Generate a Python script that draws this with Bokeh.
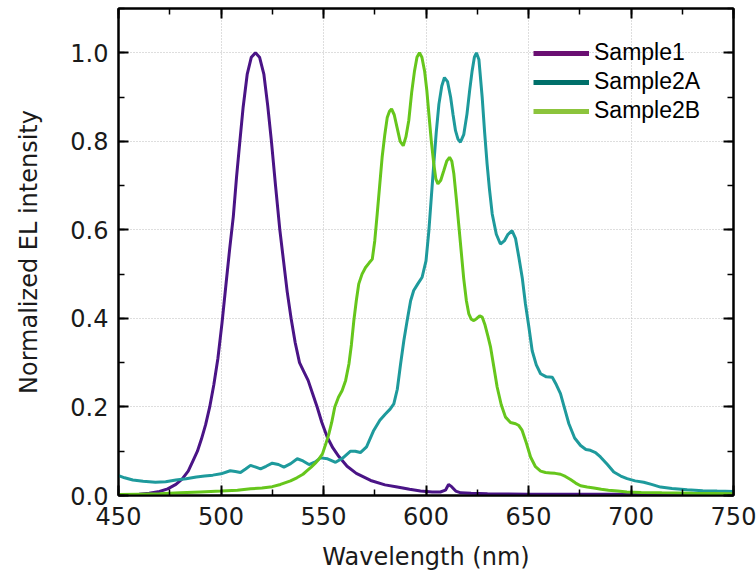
from bokeh.plotting import figure
from bokeh.models import (Range1d, LinearAxis, SingleIntervalTicker, NumeralTickFormatter,
                          Legend, LegendItem, CustomJSTickFormatter)
from bokeh.embed import file_html
from bokeh.resources import INLINE

# ---------------- data ----------------
wl1 = [450, 455, 460, 465, 470, 474, 478, 481, 484, 486.5,
       488.5, 490.5, 492.5, 494.5, 496.5, 498.5, 500.5, 502.5, 504.3, 506,
       507.6, 509.2, 510.8, 512.8, 514.8, 516.8, 518.8, 520.9, 522.8, 524.6,
       526.6, 528.7, 530.5, 532.3, 534.2, 536.2, 538.3, 540.4, 542.5, 544.7,
       546.9, 549.2, 551.8, 554.5, 557.5, 561.5, 566, 573, 580, 586,
       592, 597.3, 603, 607, 609.5, 611, 612.5, 614.5, 617, 622,
       630, 650, 680, 720, 750]
sample1 = [0.002, 0.002, 0.003, 0.005, 0.009, 0.015, 0.025, 0.037, 0.055, 0.08,
           0.1, 0.128, 0.16, 0.2, 0.25, 0.31, 0.39, 0.48, 0.56, 0.63,
           0.72, 0.8, 0.877, 0.952, 0.99, 1.0, 0.99, 0.952, 0.88, 0.8,
           0.70, 0.6, 0.53, 0.46, 0.4, 0.345, 0.3, 0.28, 0.26, 0.23,
           0.2, 0.165, 0.132, 0.108, 0.088, 0.066, 0.05, 0.034, 0.024, 0.019,
           0.014, 0.01, 0.008, 0.008, 0.012, 0.025, 0.02, 0.01, 0.006, 0.005,
           0.004, 0.003, 0.003, 0.003, 0.003]

wl2 = [450, 453, 457, 462, 468, 473, 478, 483, 488, 492,
       496, 500, 504.5, 507, 509.5, 512, 514.4, 517, 519.3, 522,
       525, 528, 530.7, 534, 537.2, 540, 542.9, 546, 548.5, 552,
       555.9, 559.5, 563.2, 565.5, 568, 571, 574.5, 577.5, 580.2, 582.5,
       584.3, 586, 587.6, 589.2, 590.8, 592.5, 594, 596, 598.1, 600,
       601.4, 602.7, 603.8, 605, 606.3, 607.7, 609, 610.5, 612, 613.2,
       614.4, 615.6, 616.8, 618.4, 620, 621.3, 622.5, 623.6, 624.6, 625.8,
       627.4, 628.6, 629.8, 631, 632.3, 634.3, 636.3, 638.2, 640, 642,
       643.7, 645.3, 647, 648.5, 650.2, 651.8, 653.8, 655.9, 658.7, 661.6,
       663.6, 665.6, 667.7, 669.7, 672.5, 675.4, 678, 680.2, 682.7, 685.1,
       688.5, 691.6, 695, 698.1, 702, 706.2, 710, 714.4, 720, 727.4,
       735, 742, 750]
sample2a = [0.045, 0.04, 0.035, 0.032, 0.03, 0.031, 0.035, 0.038, 0.042, 0.044,
            0.046, 0.049, 0.056, 0.054, 0.052, 0.06, 0.068, 0.064, 0.06, 0.066,
            0.073, 0.07, 0.064, 0.072, 0.083, 0.078, 0.07, 0.076, 0.085, 0.083,
            0.075, 0.085, 0.1, 0.1, 0.097, 0.11, 0.147, 0.17, 0.184, 0.195,
            0.207, 0.24, 0.297, 0.35, 0.395, 0.44, 0.463, 0.478, 0.493, 0.53,
            0.598, 0.68, 0.749, 0.82, 0.884, 0.925, 0.944, 0.935, 0.9, 0.86,
            0.824, 0.805, 0.798, 0.815, 0.862, 0.915, 0.959, 0.99, 1.0, 0.985,
            0.9, 0.82, 0.749, 0.69, 0.636, 0.59, 0.568, 0.575, 0.59, 0.598,
            0.58, 0.538, 0.49, 0.433, 0.38, 0.327, 0.295, 0.275, 0.268, 0.267,
            0.25, 0.23, 0.195, 0.162, 0.13, 0.113, 0.104, 0.102, 0.097, 0.087,
            0.07, 0.053, 0.044, 0.038, 0.033, 0.03, 0.025, 0.019, 0.016, 0.013,
            0.011, 0.01, 0.009]

wl3 = [450, 460, 470, 480, 490, 500, 508, 514.4, 520, 525,
       529, 533.9, 537, 540, 542, 544, 546, 547.7, 549.5, 551,
       552.5, 554, 555.5, 557.3, 559.1, 560.8, 562.4, 563.6, 564.8, 566,
       567.2, 568.8, 570.5, 572.2, 573.8, 575, 576.2, 577.4, 578.6, 579.9,
       581.1, 582.2, 583.2, 584.5, 585.9, 587.4, 588.9, 590.2, 591.6, 593,
       594.4, 595.6, 596.8, 598, 599.3, 600.4, 601.4, 602.6, 603.8, 604.8,
       605.8, 607.2, 608.7, 610.1, 611.5, 612.6, 613.6, 614.8, 616, 617.2,
       618.4, 619.7, 620.9, 622.1, 623.3, 624.8, 626.2, 627.4, 628.8, 630.2,
       631.5, 633.1, 634.7, 636.7, 638.8, 641.2, 643.7, 645.3, 646.9, 649,
       651, 653.4, 655.9, 658.3, 660.7, 663, 665.6, 668, 670.5, 673,
       675.4, 678.6, 681.9, 685.5, 689, 693.5, 698, 705, 715, 730,
       750]
sample2b = [0.002, 0.003, 0.004, 0.006, 0.008, 0.01, 0.012, 0.015, 0.017, 0.02,
            0.025, 0.033, 0.04, 0.048, 0.056, 0.064, 0.073, 0.082, 0.094, 0.115,
            0.137, 0.165, 0.2, 0.222, 0.237, 0.26, 0.297, 0.34, 0.395, 0.44,
            0.478, 0.5, 0.515, 0.525, 0.534, 0.575, 0.636, 0.7, 0.764, 0.815,
            0.854, 0.868, 0.873, 0.86, 0.831, 0.8, 0.79, 0.81, 0.847, 0.91,
            0.959, 0.99, 1.0, 0.99, 0.959, 0.915, 0.862, 0.8, 0.749, 0.715,
            0.704, 0.712, 0.734, 0.755, 0.764, 0.755, 0.726, 0.67, 0.61, 0.55,
            0.49, 0.44, 0.41, 0.398, 0.395, 0.4, 0.406, 0.403, 0.385, 0.36,
            0.335, 0.29, 0.245, 0.205, 0.177, 0.165, 0.162, 0.158, 0.147, 0.118,
            0.087, 0.065, 0.055, 0.052, 0.051, 0.05, 0.048, 0.043, 0.036, 0.028,
            0.022, 0.019, 0.017, 0.014, 0.012, 0.01, 0.008, 0.007, 0.006, 0.005,
            0.004]

series_names = ["Sample1", "Sample2A", "Sample2B"]
line_colors = ["#4a1486", "#1e9a9c", "#66c61c"]
legend_colors = ["#6a0f72", "#00706a", "#8cc43c"]

x_ticks_interval = 50
y_ticks_interval = 0.2
x_title = "Wavelength (nm)"
y_title = "Normalized EL intensity"

FONT = "DejaVu Sans"
TXT = "#1a1a1a"

p = figure(width=756, height=575, output_backend="svg", toolbar_location=None,
           x_range=Range1d(450, 750), y_range=Range1d(0, 1.1),
           min_border_left=118, min_border_right=23, min_border_top=8, min_border_bottom=80,
           x_axis_label=x_title, y_axis_label=y_title)
p.background_fill_color = "white"
p.border_fill_color = "white"
p.outline_line_color = "black"
p.outline_line_width = 2

bottom_axis = p.below[0]
left_axis = p.left[0]

xt = SingleIntervalTicker(interval=x_ticks_interval, num_minor_ticks=2)
yt = SingleIntervalTicker(interval=y_ticks_interval, num_minor_ticks=2)
bottom_axis.ticker = xt
left_axis.ticker = yt
left_axis.formatter = NumeralTickFormatter(format="0.0")

blank = CustomJSTickFormatter(code="return ''")
top_axis = LinearAxis(ticker=SingleIntervalTicker(interval=x_ticks_interval, num_minor_ticks=2),
                      formatter=blank)
right_axis = LinearAxis(ticker=SingleIntervalTicker(interval=y_ticks_interval, num_minor_ticks=2),
                        formatter=blank)
p.add_layout(top_axis, "above")
p.add_layout(right_axis, "right")

for ax in (bottom_axis, left_axis, top_axis, right_axis):
    ax.axis_line_color = "black"
    ax.axis_line_width = 2
    ax.major_tick_in = 10
    ax.major_tick_out = 0
    ax.minor_tick_in = 6
    ax.minor_tick_out = 0
    ax.major_tick_line_width = 2
    ax.minor_tick_line_width = 1.5
    ax.major_tick_line_color = "black"
    ax.minor_tick_line_color = "black"
    ax.major_label_text_font = FONT
    ax.major_label_text_font_size = "24px"
    ax.major_label_text_color = TXT
    ax.axis_label_text_font = FONT
    ax.axis_label_text_font_size = "24px"
    ax.axis_label_text_font_style = "normal"
    ax.axis_label_text_color = TXT

for ax in (top_axis, right_axis):
    ax.major_label_standoff = 0
    ax.axis_label_standoff = 0

bottom_axis.major_label_standoff = 11
bottom_axis.axis_label_standoff = 15
left_axis.major_label_standoff = 10
left_axis.axis_label_standoff = 24

p.xgrid.ticker = xt
p.ygrid.ticker = yt
for g in (p.xgrid, p.ygrid):
    g.grid_line_color = "#bdbdbd"
    g.grid_line_dash = "1 2"
    g.grid_line_width = 1

xs = [wl1, wl2, wl3]
ys = [sample1, sample2a, sample2b]
for x, y, c in zip(xs, ys, line_colors):
    p.line(x, y, line_color=c, line_width=3)

items = []
nan = float("nan")
for name, c in zip(series_names, legend_colors):
    r = p.line(x=[nan], y=[nan], line_color=c, line_width=5)
    items.append(LegendItem(label=name, renderers=[r]))

legend = Legend(items=items, location=(415, 371))
legend.background_fill_alpha = 0
legend.border_line_color = None
legend.label_text_font = "Liberation Sans"
legend.label_text_font_size = "23px"
legend.label_text_color = "black"
legend.glyph_width = 56
legend.glyph_height = 24
legend.label_height = 24
legend.spacing = 2
legend.padding = 5
legend.margin = 0
legend.label_standoff = 5
p.add_layout(legend)

open("out.html", "w").write(file_html(p, INLINE))
